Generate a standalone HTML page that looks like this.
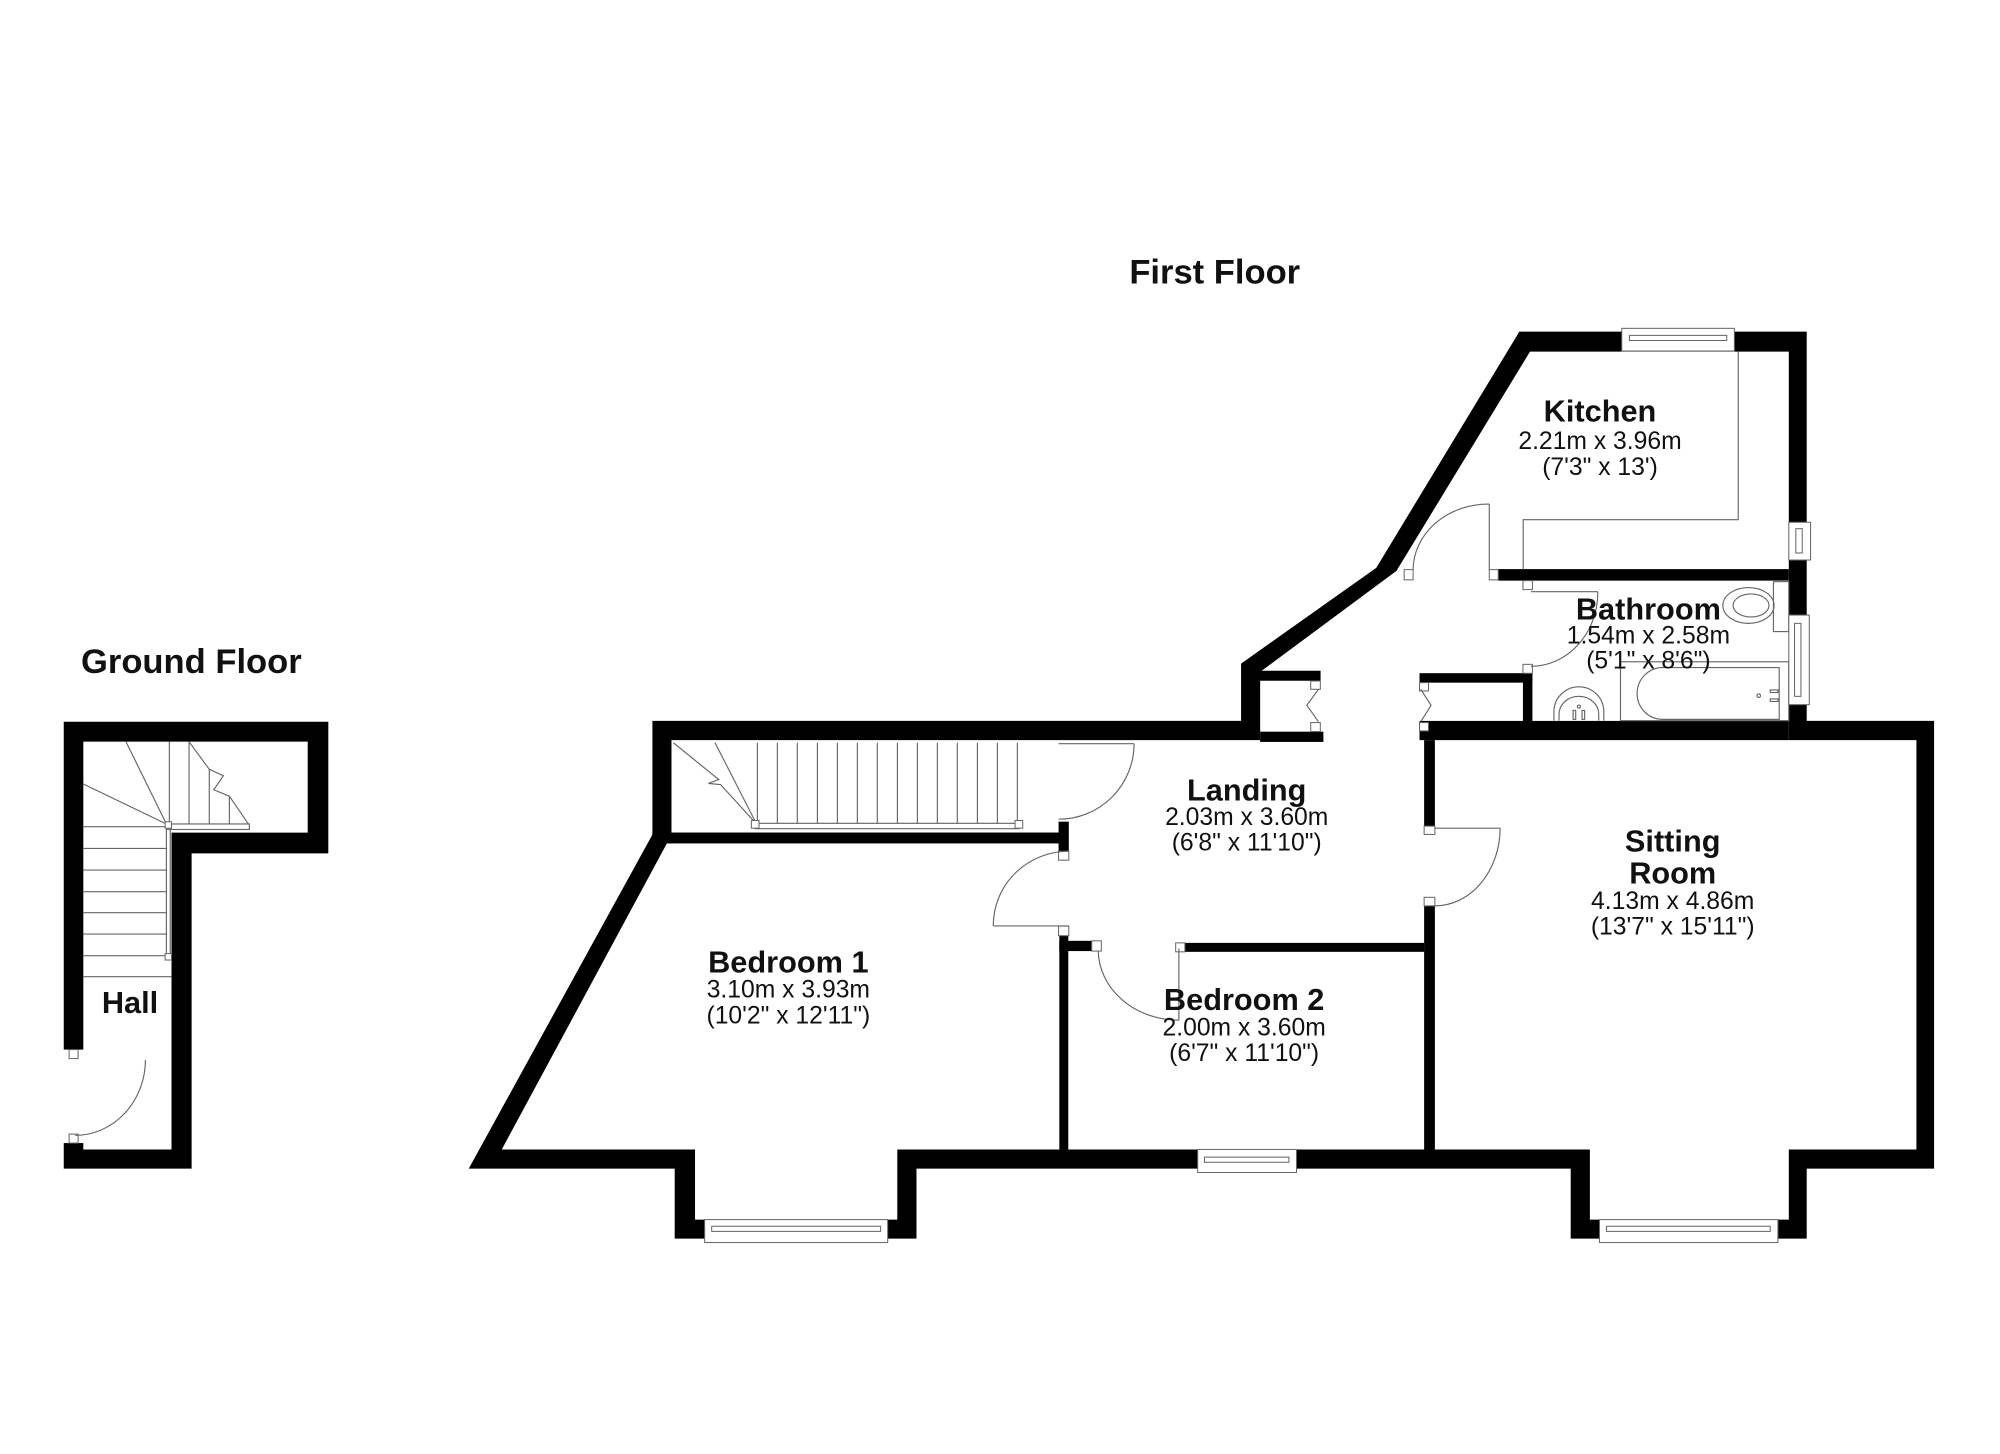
<!DOCTYPE html>
<html><head><meta charset="utf-8"><style>
html,body{margin:0;padding:0;background:#fff;}
svg{display:block;}
text{font-family:"Liberation Sans",Arial,sans-serif;fill:#111;text-anchor:middle;}
.t{font-weight:bold;font-size:27px;}
.n{font-weight:bold;font-size:24px;}
.d{font-size:19.3px;}
.l{stroke:#666;stroke-width:0.9;fill:none;}
.j{fill:#fff;stroke:#666;stroke-width:0.8;}
.w{fill:#fff;stroke:#666;stroke-width:0.8;}
</style></head><body>
<svg width="2000" height="1454" viewBox="0 0 1562.5 1135.9" xmlns="http://www.w3.org/2000/svg">
<rect x="0" y="0" width="1562.5" height="1135.9" fill="#fff"/>

<!-- Ground floor walls -->
<path fill-rule="evenodd" fill="#000" d="M49.8,563.8 H256.5 V666.7 H149.7 V913 H49.8 Z M65.1,579.4 H240.4 V650.5 H134 V898 H65.1 Z"/>
<rect x="49" y="820" width="16.5" height="73" fill="#fff"/>
<rect class="j" x="54" y="820" width="7" height="7"/>
<rect class="j" x="54" y="886" width="7" height="7"/>
<path class="l" d="M113.6,828 A55,59 0 0 1 58.8,887"/>
<!-- ground stairs -->
<g class="l">
<line x1="65" y1="645.8" x2="130" y2="645.8"/>
<line x1="65" y1="662.8" x2="130" y2="662.8"/>
<line x1="65" y1="679.7" x2="130" y2="679.7"/>
<line x1="65" y1="696.6" x2="130" y2="696.6"/>
<line x1="65" y1="713" x2="130" y2="713"/>
<line x1="65" y1="729.7" x2="130" y2="729.7"/>
<line x1="65" y1="746.6" x2="130" y2="746.6"/>
<line x1="65" y1="763" x2="134" y2="763"/>
<rect x="130" y="645" width="3" height="102"/>
<line x1="132.3" y1="579.4" x2="132.3" y2="643.7"/>
<line x1="147.7" y1="579.4" x2="147.7" y2="643.7"/>
<line x1="163.5" y1="601" x2="163.5" y2="643.7"/>
<line x1="179.2" y1="622" x2="179.2" y2="643.7"/>
<polyline points="147.7,579.4 163.5,601 174.5,606 167,617 179.2,622 194,643.7"/>
<rect x="130" y="643.7" width="64.8" height="4.3"/>
<line x1="98.4" y1="579.4" x2="130" y2="643.7"/>
<line x1="65.1" y1="612.5" x2="130" y2="643.7"/>
</g>
<rect class="j" x="129" y="642" width="5" height="5"/>
<rect class="j" x="129" y="745" width="5" height="5"/>

<!-- First floor walls -->
<polygon fill="#000" points="509.7,563.2 969.6,563.2 969.6,518.4 1075.2,443.6 1187,259.1 1411.5,259.1 1411.5,563.2 1511,563.2 1511,913 1411.5,913 1411.5,967.7 1227.1,967.7 1227.1,913 716,913 716,967.7 527.1,967.7 527.1,913 366.2,913 509.7,652"/>
<polygon fill="#fff" points="524.6,578.2 984.5,578.2 984.5,524.9 1091,446 1195.3,274.7 1397.5,274.7 1397.5,578.2 1497.2,578.2 1497.2,898 1397.5,898 1397.5,952.8 1242.1,952.8 1242.1,898 701,898 701,952.8 543,952.8 543,898 392,898 521,658.9 524.6,658.9"/>
<g fill="#000">
<rect x="984.5" y="571.6" width="49.4" height="8"/>
<rect x="984" y="524" width="47.7" height="7.8"/>
<rect x="1109" y="563.2" width="288.5" height="15"/>
<rect x="1109" y="525.9" width="88.2" height="7.4"/>
<rect x="1189.8" y="525.9" width="7.4" height="38"/>
<rect x="1170.5" y="444.6" width="227" height="9"/>
<rect x="1112.6" y="578.2" width="8.4" height="67.2"/>
<rect x="1112.6" y="707.7" width="8.4" height="190.3"/>
<rect x="925.7" y="736.6" width="187" height="7"/>
<rect x="827.6" y="735" width="25.3" height="8"/>
<rect x="827.6" y="731" width="7" height="167"/>
<rect x="509.7" y="650.4" width="325" height="8.5"/>
<rect x="827" y="641.9" width="8" height="23.5"/>
</g>
<!-- jambs -->
<rect class="j" x="1024" y="532" width="7.5" height="6.5"/>
<rect class="j" x="1024" y="564.5" width="7.5" height="7"/>
<rect class="j" x="1109" y="533.3" width="7" height="6.5"/>
<rect class="j" x="1109" y="564.5" width="7" height="6.5"/>
<rect class="j" x="1097" y="445" width="7" height="8"/>
<rect class="j" x="1163.5" y="445" width="7" height="8"/>
<rect class="j" x="1189.8" y="453.6" width="7.4" height="7"/>
<rect class="j" x="1189.8" y="519" width="7.4" height="7"/>
<rect class="j" x="827" y="665" width="8" height="7"/>
<rect class="j" x="827" y="723.5" width="8" height="7.5"/>
<rect class="j" x="852.9" y="735" width="7.5" height="8"/>
<rect class="j" x="918.5" y="736.6" width="7.2" height="7"/>
<rect class="j" x="1112.6" y="645.4" width="8.4" height="6.5"/>
<rect class="j" x="1112.6" y="701" width="8.4" height="6.7"/>

<!-- bifold -->
<polyline class="l" points="1030,538.5 1021,551 1030,563.8"/>
<polyline class="l" points="1110,538.5 1118,551 1110,563.8"/>

<!-- doors -->
<line class="l" x1="1163.5" y1="393.75" x2="1163.5" y2="445"/>
<path class="l" d="M1163.5,393.75 A59,51.5 0 0 0 1104,445"/>
<line class="l" x1="1196" y1="462.2" x2="1248.3" y2="462.2"/>
<path class="l" d="M1248.3,462.2 A52,58 0 0 1 1196,520.5"/>
<line class="l" x1="827" y1="581" x2="886" y2="581"/>
<path class="l" d="M886,581 A59,59 0 0 1 827,640"/>
<line class="l" x1="776" y1="723.4" x2="835" y2="723.4"/>
<path class="l" d="M776,723.4 A59,58 0 0 1 835,665"/>
<line class="l" x1="921" y1="741" x2="921" y2="797"/>
<path class="l" d="M858,743 A63,55 0 0 0 921,797"/>
<line class="l" x1="1121" y1="647" x2="1172" y2="647"/>
<path class="l" d="M1172,647 A51,61 0 0 1 1121,707.7"/>

<!-- first floor stairs -->
<g class="l">
<line x1="591.7" y1="580.2" x2="591.7" y2="643.5"/>
<line x1="607.3" y1="580.2" x2="607.3" y2="643.5"/>
<line x1="622.9" y1="580.2" x2="622.9" y2="643.5"/>
<line x1="638.6" y1="580.2" x2="638.6" y2="643.5"/>
<line x1="654.2" y1="580.2" x2="654.2" y2="643.5"/>
<line x1="669.8" y1="580.2" x2="669.8" y2="643.5"/>
<line x1="685.4" y1="580.2" x2="685.4" y2="643.5"/>
<line x1="701.1" y1="580.2" x2="701.1" y2="643.5"/>
<line x1="716.7" y1="580.2" x2="716.7" y2="643.5"/>
<line x1="732.3" y1="580.2" x2="732.3" y2="643.5"/>
<line x1="747.9" y1="580.2" x2="747.9" y2="643.5"/>
<line x1="763.6" y1="580.2" x2="763.6" y2="643.5"/>
<line x1="779.2" y1="580.2" x2="779.2" y2="643.5"/>
<line x1="794.8" y1="580.2" x2="794.8" y2="643.5"/>
<line x1="558.6" y1="580.2" x2="591.1" y2="643.8"/>
<polyline points="526,580.2 561.5,609 553.5,612 563,613 591.1,643.8"/>
<rect x="590" y="643.2" width="206" height="4.2"/>
</g>
<rect class="j" x="587" y="641" width="6" height="6"/>
<rect class="j" x="793" y="641" width="6" height="6"/>

<!-- kitchen counter -->
<polyline class="l" points="1358,274.7 1358,406 1190,406 1190,445"/>

<!-- bathroom fittings -->
<rect class="l" x="1385.5" y="454.4" width="12" height="39"/>
<ellipse class="l" cx="1366" cy="473" rx="20" ry="14"/>
<ellipse class="l" cx="1368" cy="473" rx="14" ry="9"/>
<rect class="l" x="1266" y="517" width="131.5" height="46"/>
<path class="l" d="M1299,521.5 H1390 V562 H1299 A20,20.25 0 0 1 1299,521.5 Z"/>
<circle class="l" cx="1374" cy="543.5" r="1.4"/>
<rect class="l" x="1383" y="539" width="6" height="2"/>
<rect class="l" x="1383" y="546" width="6" height="2"/>
<path class="l" d="M1214,563 V556 A19.5,19.5 0 0 1 1253,556 V563"/>
<path class="l" d="M1218,563 V558 A15.5,14 0 0 1 1249,558 V563"/>
<circle class="l" cx="1233.5" cy="552" r="1.2"/>
<rect class="l" x="1229" y="555" width="2" height="7"/>
<rect class="l" x="1236" y="555" width="2" height="7"/>

<!-- windows -->
<rect class="w" x="1267" y="256.5" width="88" height="17.7"/>
<rect class="w" x="1273" y="262" width="76" height="4"/>
<rect class="w" x="1397.5" y="408" width="17" height="29.5"/>
<rect class="w" x="1403" y="413" width="5" height="19"/>
<rect class="w" x="1397.5" y="480.5" width="16" height="70"/>
<rect class="w" x="1402" y="487" width="5" height="57"/>
<rect class="w" x="550.5" y="952.8" width="143" height="17.9"/>
<rect class="w" x="556" y="958" width="132" height="4"/>
<rect class="w" x="935.7" y="898" width="77.2" height="18"/>
<rect class="w" x="941" y="904" width="66" height="4"/>
<rect class="w" x="1249.6" y="952.8" width="139.4" height="17.9"/>
<rect class="w" x="1255" y="958" width="128" height="4"/>

<!-- text -->
<text class="t" x="949" y="221.4">First Floor</text>
<text class="t" x="149.5" y="525.8">Ground Floor</text>
<text class="n" x="101.6" y="791.4">Hall</text>

<text class="n" x="1250" y="329.4">Kitchen</text>
<text class="d" x="1250" y="350.8">2.21m x 3.96m</text>
<text class="d" x="1250" y="371">(7'3" x 13')</text>

<text class="n" x="1287.8" y="483.8">Bathroom</text>
<text class="d" x="1287.8" y="502.6">1.54m x 2.58m</text>
<text class="d" x="1287.8" y="522.4">(5'1" x 8'6")</text>

<text class="n" x="974" y="625.5">Landing</text>
<text class="d" x="974" y="644.4">2.03m x 3.60m</text>
<text class="d" x="974" y="664.5">(6'8" x 11'10")</text>

<text class="n" x="1306.8" y="665.3">Sitting</text>
<text class="n" x="1306.8" y="690.3">Room</text>
<text class="d" x="1306.8" y="710.2">4.13m x 4.86m</text>
<text class="d" x="1306.8" y="730.1">(13'7" x 15'11")</text>

<text class="n" x="615.9" y="759.6">Bedroom 1</text>
<text class="d" x="615.9" y="779.4">3.10m x 3.93m</text>
<text class="d" x="615.9" y="799.5">(10'2" x 12'11")</text>

<text class="n" x="972" y="788.9">Bedroom 2</text>
<text class="d" x="972" y="808.8">2.00m x 3.60m</text>
<text class="d" x="972" y="828.8">(6'7" x 11'10")</text>
</svg>
</body></html>
